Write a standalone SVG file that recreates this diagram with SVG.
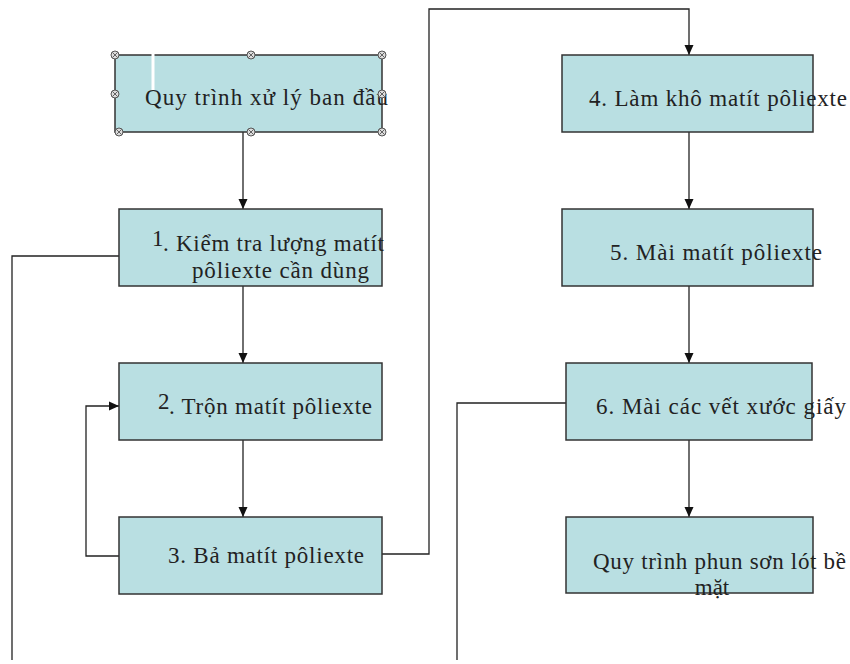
<svg xmlns="http://www.w3.org/2000/svg" width="850" height="664" viewBox="0 0 850 664">
  <style>
    .box { fill: #b9dfe2; stroke: #333; stroke-width: 1.5; }
    .lbl { font-family: 'Liberation Serif', 'DejaVu Serif', serif; font-size: 23px; fill: #222; }
    .wire { fill: none; stroke: #222; stroke-width: 1.3; }
    .handle { fill: #ddd; stroke: #555; stroke-width: 1; }
    .hx { stroke: #555; stroke-width: 0.9; }
  </style>
  <defs>
    <marker id="arr" markerUnits="userSpaceOnUse" markerWidth="10" markerHeight="10" viewBox="0 0 10 10" refX="10" refY="5" orient="auto">
      <path d="M0,0.5 L10,5 L0,9.5 Z" fill="#111"/>
    </marker>
    <g id="hdl">
      <circle class="handle" r="4"/>
      <path class="hx" d="M-2.6,-2.6 L2.6,2.6 M-2.6,2.6 L2.6,-2.6"/>
    </g>
  </defs>

  <rect width="850" height="664" fill="#fff"/>

  <!-- connectors -->
  <g id="connectors">
    <line class="wire" x1="243" y1="132" x2="243" y2="209" marker-end="url(#arr)"/>
    <line class="wire" x1="243" y1="286" x2="243" y2="363" marker-end="url(#arr)"/>
    <line class="wire" x1="243" y1="440" x2="243" y2="517" marker-end="url(#arr)"/>
    <polyline class="wire" points="382,554 429,554 429,9 689,9 689,55" marker-end="url(#arr)"/>
    <line class="wire" x1="689" y1="132" x2="689" y2="209" marker-end="url(#arr)"/>
    <line class="wire" x1="689" y1="286" x2="689" y2="363" marker-end="url(#arr)"/>
    <line class="wire" x1="689" y1="440" x2="689" y2="517" marker-end="url(#arr)"/>
    <polyline class="wire" points="119,556 86,556 86,406 119,406" marker-end="url(#arr)"/>
    <polyline class="wire" points="119,256 12,256 12,660"/>
    <polyline class="wire" points="566,403 457,403 457,660"/>
  </g>

  <!-- start: initial processing (selected) -->
  <g id="start">
    <rect class="box" x="115" y="55" width="267" height="77"/>
    <line x1="153" y1="50" x2="153" y2="90" stroke="#fff" stroke-width="3"/>
    <text class="lbl" x="145" y="105" textLength="243">Quy trình xử lý ban đầu</text>
    <use href="#hdl" x="115" y="55"/>
    <use href="#hdl" x="251" y="55"/>
    <use href="#hdl" x="382" y="55"/>
    <use href="#hdl" x="115" y="94"/>
    <use href="#hdl" x="382" y="94"/>
    <use href="#hdl" x="119" y="132"/>
    <use href="#hdl" x="251" y="132"/>
    <use href="#hdl" x="382" y="132"/>
  </g>

  <g id="step1">
    <rect class="box" x="119" y="209" width="263" height="77"/>
    <text class="lbl" x="152" y="246">1</text>
    <text class="lbl" x="163" y="251" textLength="221">. Kiểm tra lượng matít</text>
    <text class="lbl" x="192" y="278" textLength="177">pôliexte cần dùng</text>
  </g>

  <g id="step2">
    <rect class="box" x="119" y="363" width="263" height="77"/>
    <text class="lbl" x="158" y="409">2</text>
    <text class="lbl" x="169" y="414" textLength="203">. Trộn matít pôliexte</text>
  </g>

  <g id="step3">
    <rect class="box" x="119" y="517" width="263" height="77"/>
    <text class="lbl" x="168" y="563" textLength="196">3. Bả matít pôliexte</text>
  </g>

  <g id="step4">
    <rect class="box" x="562" y="55" width="251" height="77"/>
    <text class="lbl" x="589" y="106" textLength="258">4. Làm khô matít pôliexte</text>
  </g>

  <g id="step5">
    <rect class="box" x="562" y="209" width="251" height="77"/>
    <text class="lbl" x="610" y="260" textLength="212">5. Mài matít pôliexte</text>
  </g>

  <g id="step6">
    <rect class="box" x="566" y="363" width="246" height="77"/>
    <text class="lbl" x="596" y="414" textLength="250">6. Mài các vết xước giấy</text>
  </g>

  <g id="primer">
    <rect class="box" x="566" y="517" width="247" height="76"/>
    <text class="lbl" x="593" y="569" textLength="253">Quy trình phun sơn lót bề</text>
    <text class="lbl" x="712" y="595" text-anchor="middle">mặt</text>
  </g>
</svg>
